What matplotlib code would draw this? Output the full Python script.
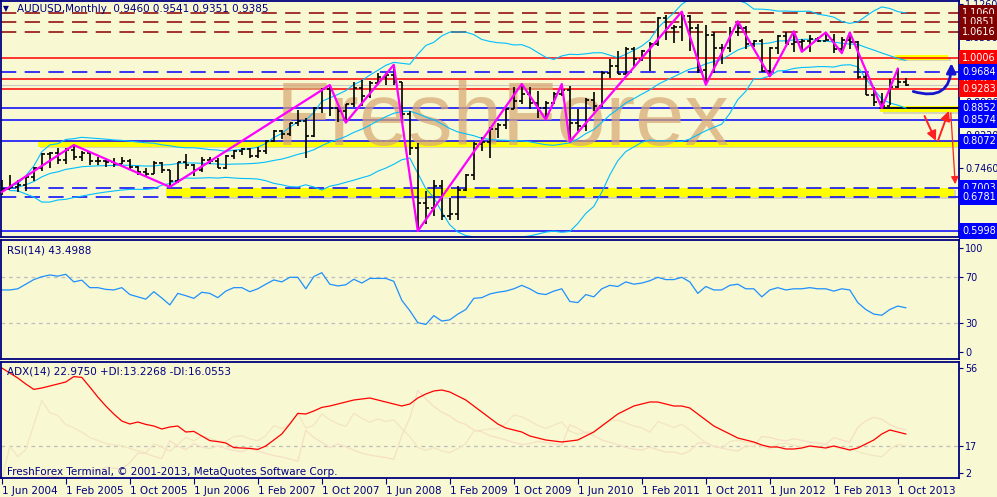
import numpy as np
import pandas as pd
import matplotlib
matplotlib.use("Agg")
import matplotlib.pyplot as plt
import matplotlib.transforms as mtransforms
from matplotlib.patches import FancyArrowPatch

# AUDUSD monthly bars, Jun 2004 .. Nov 2013
first_open = 0.6900
highs = [0.7180, 0.7290, 0.7180, 0.7260, 0.7480, 0.7800, 0.7830, 0.7920, 0.7930, 0.7990,
         0.7850, 0.7830, 0.7720, 0.7680, 0.7700, 0.7720, 0.7670, 0.7500, 0.7450, 0.7620,
         0.7590, 0.7420, 0.7600, 0.7790, 0.7560, 0.7710, 0.7710, 0.7690, 0.7750, 0.7870,
         0.7920, 0.7930, 0.7950, 0.8100, 0.8340, 0.8340, 0.8510, 0.8800, 0.8620, 0.8860,
         0.9300, 0.9380, 0.8880, 0.8930, 0.9440, 0.9500, 0.9470, 0.9650, 0.9660, 0.9849,
         0.9440, 0.8780, 0.8030, 0.6930, 0.7170, 0.7180, 0.6760, 0.7050, 0.7330, 0.8060,
         0.8170, 0.8400, 0.8500, 0.8840, 0.9330, 0.9406, 0.9330, 0.9250, 0.9020, 0.9210,
         0.9405, 0.9350, 0.8830, 0.9080, 0.9210, 0.9700, 0.9990, 1.0180, 1.0250, 1.0250,
         1.0200, 1.0370, 1.0950, 1.1010, 1.0780, 1.1080, 1.1000, 1.0800, 1.0770, 1.0620,
         1.0320, 1.0720, 1.0857, 1.0740, 1.0420, 1.0440, 1.0260, 1.0530, 1.0620, 1.0625,
         1.0440, 1.0530, 1.0500, 1.0600, 1.0560, 1.0500, 1.0598, 1.0400, 0.9730, 0.9330,
         0.9190, 0.9529, 0.9758, 0.9541]
lows = [0.6830, 0.6960, 0.6910, 0.6930, 0.7160, 0.7390, 0.7450, 0.7560, 0.7560, 0.7640,
        0.7620, 0.7530, 0.7530, 0.7470, 0.7490, 0.7540, 0.7440, 0.7290, 0.7270, 0.7310,
        0.7340, 0.7020, 0.7120, 0.7430, 0.7280, 0.7370, 0.7540, 0.7450, 0.7440, 0.7660,
        0.7770, 0.7680, 0.7690, 0.7790, 0.8060, 0.8140, 0.8190, 0.8440, 0.7680, 0.8170,
        0.8730, 0.8670, 0.8520, 0.8510, 0.8880, 0.8900, 0.9080, 0.9370, 0.9390, 0.9370,
        0.8560, 0.7750, 0.5998, 0.6170, 0.6340, 0.6250, 0.6260, 0.6250, 0.6920, 0.7180,
        0.7840, 0.7700, 0.8150, 0.8370, 0.8830, 0.8950, 0.8820, 0.8620, 0.8580, 0.8950,
        0.9120, 0.8067, 0.8320, 0.8320, 0.8770, 0.8880, 0.9540, 0.9630, 0.9630, 0.9820,
        0.9930, 0.9710, 1.0290, 1.0420, 1.0350, 1.0410, 1.0170, 0.9660, 0.9387, 0.9660,
        0.9860, 1.0150, 1.0520, 1.0210, 1.0250, 0.9690, 0.9581, 1.0100, 1.0330, 1.0150,
        1.0150, 1.0150, 1.0380, 1.0420, 1.0120, 1.0120, 1.0220, 0.9530, 0.9140, 0.8890,
        0.8848, 0.8910, 0.9320, 0.9351]
closes = [0.6960, 0.7010, 0.7060, 0.7240, 0.7450, 0.7790, 0.7800, 0.7640, 0.7880, 0.7720,
          0.7810, 0.7620, 0.7610, 0.7600, 0.7550, 0.7630, 0.7480, 0.7360, 0.7330, 0.7570,
          0.7400, 0.7160, 0.7590, 0.7520, 0.7420, 0.7650, 0.7620, 0.7460, 0.7730, 0.7860,
          0.7890, 0.7740, 0.7860, 0.8080, 0.8310, 0.8250, 0.8490, 0.8540, 0.8190, 0.8850,
          0.9280, 0.8850, 0.8770, 0.8930, 0.9300, 0.9130, 0.9430, 0.9560, 0.9610, 0.9440,
          0.8710, 0.7920, 0.6650, 0.6530, 0.7030, 0.6350, 0.6390, 0.6940, 0.7300, 0.8010,
          0.8050, 0.8360, 0.8450, 0.8830, 0.9020, 0.9180, 0.8970, 0.8850, 0.8970, 0.9170,
          0.9260, 0.8490, 0.8430, 0.9040, 0.8890, 0.9670, 0.9810, 0.9630, 1.0220, 0.9980,
          1.0160, 1.0340, 1.0940, 1.0700, 1.0730, 1.0990, 1.0700, 0.9720, 1.0540, 1.0230,
          1.0240, 1.0610, 1.0700, 1.0340, 1.0410, 0.9700, 1.0230, 1.0510, 1.0330, 1.0380,
          1.0390, 1.0440, 1.0390, 1.0420, 1.0220, 1.0420, 1.0370, 0.9570, 0.9140, 0.8990,
          0.8900, 0.9330, 0.9460, 0.9385]

date_labels = ["1 Jun 2004", "1 Feb 2005", "1 Oct 2005", "1 Jun 2006", "1 Feb 2007",
               "1 Oct 2007", "1 Jun 2008", "1 Feb 2009", "1 Oct 2009", "1 Jun 2010",
               "1 Feb 2011", "1 Oct 2011", "1 Jun 2012", "1 Feb 2013", "1 Oct 2013"]
date_pos = [0, 8, 16, 24, 32, 40, 48, 56, 64, 72, 80, 88, 96, 104, 112]

# zigzag turning points (bar index, price)
zz_idx = [0, 9, 21, 41, 43, 49, 52, 65, 68, 70, 71, 85, 88, 92, 96, 99, 100, 103, 105, 106, 110, 112]
zz_price = [0.6900, 0.7990, 0.7020, 0.9380, 0.8510, 0.9849, 0.5998, 0.9406, 0.8580, 0.9405,
            0.8067, 1.1080, 0.9387, 1.0857, 0.9581, 1.0625, 1.0150, 1.0600, 1.0120, 1.0598,
            0.8848, 0.9758]

rsi = [59, 59, 60, 64, 68, 70.5, 72, 71, 72.6, 66, 67.5, 61, 61, 59.5, 59, 61, 55, 53, 51, 57.5,
       52, 46, 56, 54, 51.7, 57, 56, 52.3, 58, 61, 61, 57.5, 60, 64, 67.7, 66, 70, 70, 60, 70.6,
       74, 64, 62.5, 63.5, 68.3, 65, 69, 69, 69, 66.5, 50, 41, 30.6, 29, 36.7, 32, 33, 38, 42, 51.7,
       52.3, 55.5, 57, 58, 60, 63, 60, 56, 55, 58, 60, 49, 48, 55, 53, 60, 63, 62, 66, 64,
       65, 67, 70, 68, 68, 70, 66, 56, 62, 59, 59, 63, 64, 60, 60, 53, 59, 61, 59, 60,
       60, 61, 60, 60, 58, 60, 59, 48, 42, 38, 37, 42, 45, 43.5]
adx = [56, 53.5, 51, 48, 45.3, 46, 47, 48, 49, 51.7, 51.3, 46.5, 41.5, 37, 33, 29.5, 28, 29, 27.8, 27,
       25.5, 26.5, 27, 24, 24.3, 22, 19.7, 19.2, 18.5, 16.2, 16, 15.8, 15.3, 17, 20, 23, 28, 33.3, 33, 34.5,
       36.3, 37, 38, 39, 40, 40.5, 41, 40, 39, 38, 37, 38, 41, 43, 44.5, 45, 44, 42, 40, 37,
       34, 31, 28, 26, 25, 24, 22, 21, 20, 19.5, 19, 19.5, 20, 22, 24, 27, 30, 33, 35, 37,
       38, 39, 39, 38, 37, 37, 36, 33, 30, 27, 25, 23, 21, 20, 19, 17.5, 16.5, 16.5, 15.5, 15.5,
       16, 17, 16.5, 16, 17, 16, 15, 16, 18, 20, 23, 25, 24, 23]

res_levels = [1.1060, 1.0851, 1.0616]
red_levels = [1.0006, 0.9529, 0.9283]
blue_solid = [0.8852, 0.8574, 0.8072, 0.5998]
blue_dashed = [0.9684, 0.7003, 0.6781]

BG = "#F8F8D2"
NAVY = "#000080"

idx = np.arange(len(closes))
opens = [first_open] + closes[:-1]

# bollinger bands 20,2
s = pd.Series(closes)
bb_mid = s.rolling(20, min_periods=2).mean()
bb_sd = s.rolling(20, min_periods=2).std(ddof=0)

# +DI / -DI (only drawn faintly)
h = pd.Series(highs); l = pd.Series(lows)
pc = s.shift(1).fillna(first_open)
tr = pd.concat([h - l, (h - pc).abs(), (l - pc).abs()], axis=1).max(axis=1)
up = h.diff().fillna(0); dn = (-l.diff()).fillna(0)
pdm = np.where((up > dn) & (up > 0), up, 0.0)
mdm = np.where((dn > up) & (dn > 0), dn, 0.0)
atr = tr.ewm(alpha=1 / 14).mean()
pdi = 100 * pd.Series(pdm).ewm(alpha=1 / 14).mean() / atr
mdi = 100 * pd.Series(mdm).ewm(alpha=1 / 14).mean() / atr

fig = plt.figure(figsize=(9.97, 4.97), dpi=100, facecolor=BG)
W, H = 997.0, 497.0
ax = fig.add_axes([1 / W, 1 - 237 / H, 958 / W, 236 / H], facecolor=BG)
ax_rsi = fig.add_axes([1 / W, 1 - 359 / H, 958 / W, 119 / H], facecolor=BG)
ax_adx = fig.add_axes([1 / W, 1 - 478 / H, 958 / W, 116 / H], facecolor=BG)

for a in (ax, ax_rsi, ax_adx):
    a.set_xlim(-0.1, 119.65)
    for sp in a.spines.values():
        sp.set_color(NAVY)
        sp.set_linewidth(1.3)
    a.yaxis.tick_right()
    a.tick_params(axis="y", colors=NAVY, labelcolor=NAVY, labelsize=6.9, length=3, pad=1.5)
    a.tick_params(axis="x", bottom=False, labelbottom=False)

# ---- main price panel
ax.set_ylim(0.5859, 1.1327)
ax.set_yticks([0.5940, 0.6700, 0.7460, 0.8220, 0.8980, 0.9740, 1.0500, 1.1260])
ax.set_yticklabels(["%.4f" % v for v in ax.get_yticks()])

# yellow zones with a soft shadow
def zone(y0, y1, x0, x1):
    ax.fill_between([x0 + 0.3, x1 + 0.3], y0 - 0.004, y1 - 0.004, color="#B8B8A0", alpha=0.5, lw=0, zorder=1)
    ax.fill_between([x0, x1], y0, y1, color="#FFFF00", lw=0, zorder=1.1)

zone(0.7955, 0.8072, 4.5, 119.6)
zone(0.6790, 0.6985, 20.5, 119.0)
zone(0.9966, 1.0076, 111.7, 118.3)
zone(0.8755, 0.8894, 109.8, 119.6)

for v in res_levels:
    ax.axhline(v, color="#8B0000", lw=1.1, dashes=(10, 5.5), zorder=1.2)
for v in red_levels:
    ax.axhline(v, color="#FF0000", lw=1.1, zorder=1.2)
for v in blue_solid:
    ax.axhline(v, color="#0000FF", lw=1.1, zorder=1.2)
for v in blue_dashed:
    ax.axhline(v, color="#0000FF", lw=1.1, dashes=(10, 5.5), zorder=1.2)
ax.axhline(closes[-1], color="#C8C8C8", lw=0.8, zorder=1.2)
ax.plot([109.8, 119.6], [0.8852, 0.8852], color="black", lw=1.1, zorder=1.3)

ax.text(62.6, 0.852, "FreshForex", family="Liberation Sans", fontsize=64, color="#D8A874",
        alpha=0.72, ha="center", va="center", zorder=1.5)

ax.plot(idx, bb_mid + 2 * bb_sd, color="#00BFFF", lw=0.8, zorder=2)
ax.plot(idx, bb_mid, color="#00BFFF", lw=0.8, zorder=2)
ax.plot(idx, bb_mid - 2 * bb_sd, color="#00BFFF", lw=0.8, zorder=2)

ax.vlines(idx, lows, highs, color="black", lw=1.2, zorder=3)
ax.hlines(opens, idx - 0.4, idx, color="black", lw=1.2, zorder=3)
ax.hlines(closes, idx, idx + 0.4, color="black", lw=1.2, zorder=3)

ax.plot(zz_idx, zz_price, color="#FF00FF", lw=1.6, zorder=4)

# hand drawn scenario arrows
ax.add_patch(FancyArrowPatch((113.6, 0.925), (118.7, 0.995), connectionstyle="arc3,rad=0.7",
                             arrowstyle="-|>", mutation_scale=14, color="#1515D0", lw=2, zorder=5))
ax.add_patch(FancyArrowPatch((115.2, 0.872), (116.9, 0.803), arrowstyle="-|>",
                             mutation_scale=14, color="#FF2020", lw=1.4, zorder=5))
ax.add_patch(FancyArrowPatch((116.9, 0.803), (118.5, 0.884), arrowstyle="-|>",
                             mutation_scale=14, color="#FF2020", lw=1.4, zorder=5))
ax.add_patch(FancyArrowPatch((118.6, 0.880), (119.2, 0.702), arrowstyle="-|>",
                             mutation_scale=11, color="#FF2020", lw=0.9, zorder=5))

# price boxes on the right scale
trans = mtransforms.blended_transform_factory(fig.transFigure, ax.transData)
boxes = [(v, "#800000") for v in res_levels] + [(v, "#FF0000") for v in red_levels] + \
        [(v, "#0000FF") for v in blue_dashed[:1] + blue_solid[:3] + blue_dashed[1:] + blue_solid[3:]]
for v, c in boxes:
    ax.text(962 / W, v, "%.4f" % v, transform=trans, color="white", fontsize=7, va="center",
            ha="left", bbox=dict(boxstyle="square,pad=0.3", fc=c, ec="none"), zorder=6, clip_on=False)

fig.text(3 / W, 1 - 9 / H, "\u25BC", fontsize=5.5, color=NAVY, va="center")
fig.text(17 / W, 1 - 9 / H, "AUDUSD,Monthly  0.9460 0.9541 0.9351 0.9385", fontsize=7.5,
         color=NAVY, va="center")

# ---- RSI panel
ax_rsi.set_ylim(-1.0, 102.4)
ax_rsi.set_yticks([4.8, 30, 70, 95.7])
ax_rsi.set_yticklabels(["0", "30", "70", "100"])
for v in (30, 70):
    ax_rsi.axhline(v, color="#BEBEBE", lw=0.9, dashes=(3, 3))
ax_rsi.plot(idx, rsi, color="#1E90FF", lw=0.9)
ax_rsi.text(6 / W, 0.915, "RSI(14) 43.4988", transform=ax_rsi.transAxes, fontsize=7.5,
            color=NAVY, va="center")

# ---- ADX panel
ax_adx.set_ylim(1.0, 59.0)
ax_adx.set_yticks([3.65, 17, 55.85])
ax_adx.set_yticklabels(["2", "17", "56"])
ax_adx.axhline(17, color="#BEBEBE", lw=0.9, dashes=(3, 3))
ax_adx.plot(idx, pdi, color="#F3E6C0", lw=0.9)
ax_adx.plot(idx, mdi, color="#F6DFC6", lw=0.9)
ax_adx.plot(idx, adx, color="#FF0000", lw=0.9)
ax_adx.text(6 / W, 0.92, "ADX(14) 22.9750 +DI:13.2268 -DI:16.0553", transform=ax_adx.transAxes,
            fontsize=7.5, color=NAVY, va="center")
ax_adx.text(6 / W, 0.055, "FreshForex Terminal, \u00a9 2001-2013, MetaQuotes Software Corp.",
            transform=ax_adx.transAxes, fontsize=7.5, color=NAVY, va="center")

ax_adx.set_xticks(date_pos)
ax_adx.set_xticklabels(date_labels, ha="left")
ax_adx.tick_params(axis="x", bottom=True, labelbottom=True, colors=NAVY, labelcolor=NAVY,
                   labelsize=7.5, length=4, pad=2)

fig.savefig("out.png", dpi=100, facecolor=BG)
